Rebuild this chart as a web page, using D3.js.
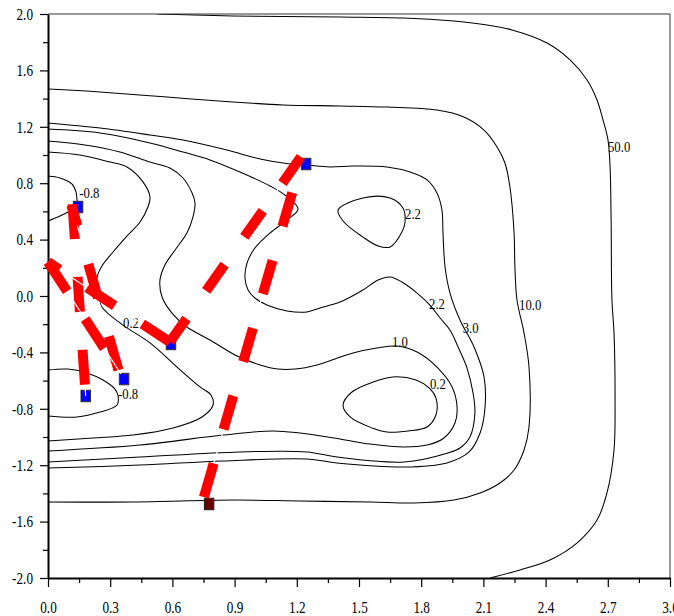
<!DOCTYPE html>
<html><head><meta charset="utf-8">
<script src="https://cdn.jsdelivr.net/npm/d3@7"></script>
<style>
body{margin:0;background:#fff;}
svg{display:block;}
text{font-family:"Liberation Serif","Times New Roman",serif;}
</style></head><body>
<svg id="chart" width="674" height="616"></svg>
<script>
// ---------- data ----------
const xTicks = [0.0,0.3,0.6,0.9,1.2,1.5,1.8,2.1,2.4,2.7,3.0];
const xMinorTicks = [0.15,0.45,0.75,1.05,1.35,1.65,1.95,2.25,2.55,2.85];
const yTicks = [-2.0,-1.6,-1.2,-0.8,-0.4,0.0,0.4,0.8,1.2,1.6,2.0];
const yMinorTicks = [-1.8,-1.4,-1.0,-0.6,-0.2,0.2,0.6,1.0,1.4,1.8];

// contour level -0.8 (upper-left basin)
const contourM08a = [[0,0.851],[0.058,0.837],[0.116,0.794],[0.135,0.738],[0.140,0.681],[0.145,0.638],[0.106,0.603],[0.058,0.567],[0,0.532]];
// contour level -0.8 (lower-left basin)
const contourM08b = [[0,-0.525],[0.096,-0.518],[0.188,-0.546],[0.265,-0.596],[0.323,-0.660],[0.338,-0.709],[0.333,-0.773],[0.251,-0.823],[0.140,-0.858],[0,-0.851]];
// contour level 0.2 (left)
const contour02a = [[0,1.021],[0.154,1.0],[0.299,0.950],[0.381,0.915],[0.458,0.809],[0.492,0.702],[0.482,0.631],[0.444,0.525],[0.386,0.433],[0.314,0.312],[0.260,0.213],[0.236,0.128],[0.241,0.028],[0.260,-0.078],[0.362,-0.206],[0.492,-0.333],[0.622,-0.504],[0.733,-0.645],[0.786,-0.702],[0.796,-0.773],[0.743,-0.858],[0.603,-0.936],[0.410,-0.986],[0.217,-1.007],[0,-1.028]];
// contour level 0.2 (right basin, closed)
const contour02b = [[1.423,-0.773],[1.466,-0.681],[1.568,-0.610],[1.664,-0.574],[1.775,-0.596],[1.838,-0.652],[1.871,-0.723],[1.871,-0.844],[1.828,-0.929],[1.736,-0.957],[1.635,-0.965],[1.563,-0.936],[1.457,-0.858]];
// contour level 1.0
const contour10 = [[0,1.099],[0.178,1.071],[0.347,1.021],[0.492,0.950],[0.588,0.908],[0.651,0.837],[0.695,0.730],[0.709,0.660],[0.699,0.560],[0.670,0.447],[0.613,0.326],[0.564,0.220],[0.540,0.113],[0.550,-0.007],[0.598,-0.121],[0.670,-0.220],[0.781,-0.312],[0.912,-0.426],[1.023,-0.489],[1.109,-0.518],[1.191,-0.518],[1.297,-0.489],[1.384,-0.447],[1.471,-0.404],[1.587,-0.369],[1.683,-0.355],[1.780,-0.397],[1.876,-0.504],[1.949,-0.645],[1.973,-0.787],[1.963,-0.901],[1.910,-1.007],[1.828,-1.057],[1.717,-1.071],[1.553,-1.050],[1.408,-1.014],[1.215,-0.972],[1.085,-0.957],[0.844,-0.986],[0.444,-1.057],[0,-1.099]];
// contour level 2.2 (main)
const contour22a = [[0,1.184],[0.251,1.156],[0.492,1.085],[0.651,1.021],[0.781,0.965],[0.926,0.879],[1.071,0.780],[1.143,0.716],[1.206,0.617],[1.153,0.539],[1.071,0.447],[0.998,0.340],[0.960,0.234],[0.950,0.128],[0.965,0.043],[0.998,-0.014],[1.056,-0.064],[1.153,-0.106],[1.249,-0.113],[1.312,-0.085],[1.408,-0.043],[1.519,0.043],[1.592,0.113],[1.650,0.135],[1.707,0.099],[1.780,0.021],[1.842,-0.064],[1.891,-0.156],[1.939,-0.241],[1.978,-0.362],[2.021,-0.511],[2.050,-0.688],[2.059,-0.830],[2.035,-1.0],[1.987,-1.078],[1.929,-1.113],[1.717,-1.177],[1.394,-1.142],[1.249,-1.106],[0.926,-1.106],[0.444,-1.142],[0,-1.177]];
// contour level 2.2 (small closed loop)
const contour22b = [[1.399,0.610],[1.519,0.695],[1.650,0.695],[1.712,0.624],[1.722,0.525],[1.707,0.454],[1.650,0.348],[1.592,0.355],[1.519,0.418],[1.423,0.532]];
// contour level 3.0
const contour30 = [[0,1.227],[0.251,1.191],[0.492,1.142],[0.651,1.106],[0.863,1.035],[1.023,0.972],[1.168,0.936],[1.245,0.929],[1.360,0.915],[1.471,0.922],[1.635,0.915],[1.746,0.879],[1.828,0.823],[1.876,0.730],[1.900,0.610],[1.905,0.447],[1.915,0.206],[1.939,0.021],[1.987,-0.170],[2.055,-0.362],[2.103,-0.574],[2.108,-0.787],[2.084,-0.972],[2.031,-1.106],[1.924,-1.184],[1.717,-1.213],[1.394,-1.184],[1.249,-1.156],[0.844,-1.170],[0.444,-1.199],[0,-1.220]];
// contour level 10.0
const contour100 = [[0,1.468],[0.251,1.447],[0.574,1.411],[0.892,1.376],[1.133,1.355],[1.408,1.348],[1.635,1.340],[1.876,1.319],[2.006,1.270],[2.103,1.177],[2.166,1.057],[2.204,0.943],[2.228,0.773],[2.248,0.447],[2.252,0.206],[2.262,-0.028],[2.296,-0.262],[2.320,-0.504],[2.320,-0.929],[2.296,-1.092],[2.248,-1.234],[2.180,-1.326],[2.084,-1.397],[1.958,-1.447],[1.765,-1.468],[1.553,-1.461],[1.215,-1.454],[0.892,-1.447],[0.410,-1.461],[0,-1.461]];
// contour level 50.0
const contour500 = [[0.526,2.0],[0.892,1.986],[1.408,1.979],[1.717,1.972],[1.958,1.950],[2.084,1.929],[2.238,1.887],[2.407,1.794],[2.518,1.674],[2.600,1.532],[2.648,1.390],[2.677,1.248],[2.701,1.106],[2.711,0.915],[2.716,0.539],[2.720,-0.028],[2.730,-0.262],[2.735,-0.738],[2.730,-1.092],[2.696,-1.397],[2.648,-1.589],[2.551,-1.752],[2.421,-1.872],[2.277,-1.943],[2.132,-2.0]];

const contourLabelText = ["-0.8","-0.8","0.2","0.2","1.0","2.2","2.2","3.0","10.0","50.0"];
const contourLabelX = [0.151,0.338,0.362,1.842,1.659,1.722,1.838,2.000,2.272,2.701];
const contourLabelY = [0.695,-0.730,-0.227,-0.660,-0.362,0.546,-0.092,-0.262,-0.099,1.021];

// stationary points (blue) and end point (dark red)
const bluePoints = [[0.145,0.631],[0.182,-0.709],[0.367,-0.589],[0.593,-0.340],[1.245,0.936]];
const endPoints = [[0.777,-1.475]];

// dashed red paths
const path1 = [[0.752,-1.426],[1.218,0.936]];
const path2 = [[1.220,0.986],[0.588,-0.326]];
const path5 = [[0.118,0.652],[0.182,-0.709]];
const path6 = [[0.340,-0.525],[0.113,0.645]];
const path3 = [[0.588,-0.326],[0.0,0.241]];
const path4 = [[0.0,0.241],[0.352,-0.553]];

// ---------- drawing ----------
const L = 48, R = 670, T = 14, B = 578;
const x = d3.scaleLinear().domain([0,3]).range([L,R]);
const y = d3.scaleLinear().domain([-2,2]).range([B,T]);
const svg = d3.select("#chart");

const line = d3.line().x(d=>x(d[0])).y(d=>y(d[1])).curve(d3.curveCatmullRom.alpha(0.5));
const lineClosed = d3.line().x(d=>x(d[0])).y(d=>y(d[1])).curve(d3.curveCatmullRomClosed.alpha(0.5));
const straight = d3.line().x(d=>x(d[0])).y(d=>y(d[1]));

const openContours = [contourM08a,contourM08b,contour02a,contour10,contour22a,contour30,contour100,contour500];
const closedContours = [contour02b,contour22b];

svg.append("clipPath").attr("id","plotclip").append("rect")
  .attr("x",L).attr("y",T).attr("width",R-L).attr("height",B-T);

const gc = svg.append("g").attr("clip-path","url(#plotclip)");
gc.selectAll("path.open").data(openContours).join("path").attr("class","open")
  .attr("d",line).attr("fill","none").attr("stroke","#000").attr("stroke-width",1.05);
gc.selectAll("path.closed").data(closedContours).join("path").attr("class","closed")
  .attr("d",lineClosed).attr("fill","none").attr("stroke","#000").attr("stroke-width",1.05);

// contour labels
svg.append("g").selectAll("text").data(contourLabelText).join("text")
  .attr("transform",(d,i)=>`translate(${x(contourLabelX[i])},${y(contourLabelY[i])}) scale(0.82,1)`)
  .attr("font-size",15.5).attr("fill","#000").text(d=>d);

// border (top/right)
svg.append("path").attr("d",`M${L},${T}H${R}V${B}`).attr("fill","none").attr("stroke","#333").attr("stroke-width",1);

// axes
const gx = svg.append("g").attr("transform",`translate(0,${B})`);
gx.append("g").call(d3.axisBottom(x).tickValues(xMinorTicks).tickSize(5).tickSizeOuter(0).tickFormat(""))
  .call(g=>g.select(".domain").remove());
const gxm = gx.append("g").call(d3.axisBottom(x).tickValues(xTicks).tickSize(9).tickSizeOuter(0).tickFormat(d=>d.toFixed(1)));
gxm.select(".domain").attr("stroke-width",2);
gxm.selectAll(".tick text").attr("y",null).attr("dy",null)
  .attr("transform","translate(0,35) scale(0.8,1)").attr("font-size",16.5)
  .attr("font-family",'"Liberation Serif","Times New Roman",serif').attr("fill","#000");
gx.selectAll(".tick line").attr("stroke","#000").attr("stroke-width",1.2);

const gy = svg.append("g").attr("transform",`translate(${L},0)`);
gy.append("g").call(d3.axisLeft(y).tickValues(yMinorTicks).tickSize(5).tickSizeOuter(0).tickFormat(""))
  .call(g=>g.select(".domain").remove());
const gym = gy.append("g").call(d3.axisLeft(y).tickValues(yTicks).tickSize(8).tickSizeOuter(0).tickFormat(d=>d.toFixed(1)));
gym.select(".domain").attr("stroke-width",2);
gym.selectAll(".tick text").attr("x",null)
  .attr("transform","translate(-15,0) scale(0.8,1)").attr("font-size",16.5)
  .attr("font-family",'"Liberation Serif","Times New Roman",serif').attr("fill","#000");
gy.selectAll(".tick line").attr("stroke","#000").attr("stroke-width",1.2);

// markers
const sqW = 9.5, sqH = 11.5;
svg.append("g").selectAll("rect").data(bluePoints).join("rect")
  .attr("x",d=>x(d[0])-sqW/2).attr("y",d=>y(d[1])-sqH/2).attr("width",sqW).attr("height",sqH)
  .attr("fill","#0000ff").attr("stroke","#333").attr("stroke-width",1);
svg.append("g").selectAll("rect").data(endPoints).join("rect")
  .attr("x",d=>x(d[0])-sqW/2).attr("y",d=>y(d[1])-sqH/2).attr("width",sqW).attr("height",sqH)
  .attr("fill","#660000").attr("stroke","#222").attr("stroke-width",1);

// red dashed paths (each: thin white centre line, then thick red dashes)
const redPaths = [path1,path2,path5,path6,path3,path4];
const redDash = ["35 35.5","32 34","35 38","35 40","33 33","35 33"];
const gp = svg.append("g");
redPaths.forEach((p,i)=>{
  gp.append("path").attr("d",straight(p)).attr("fill","none").attr("stroke","#fff").attr("stroke-width",1.2);
  gp.append("path").attr("d",straight(p)).attr("fill","none").attr("stroke","#ff0000")
    .attr("stroke-width",10).attr("stroke-dasharray",redDash[i]).attr("stroke-linecap","butt");
});
</script>
</body></html>
